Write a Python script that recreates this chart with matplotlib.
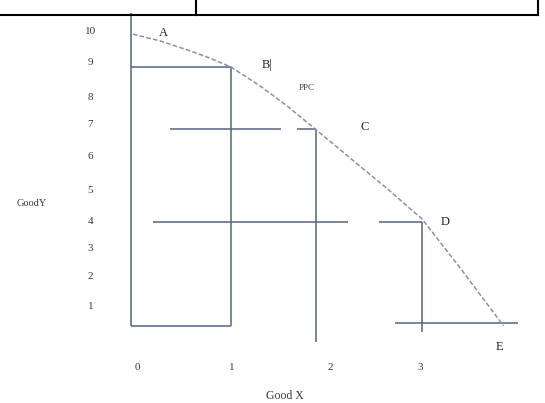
import matplotlib.pyplot as plt
from matplotlib.lines import Line2D

# PPC curve (Good X, Good Y)
ppc_x = [0.02, 0.30, 0.58, 0.81, 1.03, 1.33, 1.61, 1.91, 2.26, 2.62, 3.0, 3.41, 3.84]
ppc_y = [10.06, 9.84, 9.55, 9.29, 9.0, 8.39, 7.74, 6.97, 6.06, 5.13, 4.1, 2.45, 0.65]

# guide lines of the sketch: (x0, x1, y0, y1)
guides = [
    (0.0, 0.0, 0.65, 10.75),   # y axis
    (0.0, 1.03, 9.0, 9.0),     # B horizontal
    (1.03, 1.03, 9.0, 0.65),   # B vertical
    (0.0, 1.03, 0.65, 0.65),   # base
    (0.40, 1.55, 7.0, 7.0),    # 7 line
    (1.71, 1.91, 7.0, 7.0),
    (1.91, 1.91, 7.0, 0.13),   # C vertical
    (0.23, 2.24, 4.0, 4.0),    # 4 line
    (2.56, 3.0, 4.0, 4.0),
    (3.0, 3.0, 4.0, 0.45),     # D vertical
    (2.72, 3.99, 0.74, 0.74),  # E base
]

y_ticks = [10, 9, 8, 7, 6, 5, 4, 3, 2, 1]
y_tick_pos = [10.13, 9.16, 8.03, 7.13, 6.10, 5.03, 4.0, 3.16, 2.23, 1.26]
x_ticks = ['0', '1', '2', '3']
x_tick_pos = [0.07, 1.04, 2.05, 2.98]

points = ['A', 'B|', 'C', 'D', 'E']
point_pos = [(0.33, 10.1), (1.40, 9.06), (2.41, 7.06), (3.24, 4.0), (3.8, -0.03)]

plt.rcParams['font.family'] = ['Liberation Serif', 'DejaVu Serif']

fig = plt.figure(figsize=(5.45, 4.03), dpi=100)
ax = fig.add_axes([0, 0, 1, 1])
ax.set_xlim(-1.351, 4.268)
ax.set_ylim(-1.839, 11.16)
ax.axis('off')

line_col = '#5a6888'
for x0, x1, y0, y1 in guides:
    ax.plot([x0, x1], [y0, y1], color=line_col, lw=1.15, solid_capstyle='butt')

ax.plot(ppc_x, ppc_y, color='#8a90a6', lw=1.1, ls=(0, (3, 1.5)))

txt_col = '#3a3a3a'
for v, yp in zip(y_ticks, y_tick_pos):
    ax.text(-0.42, yp, str(v), ha='center', va='center', fontsize=8, color=txt_col)
for lab, xp in zip(x_ticks, x_tick_pos):
    ax.text(xp, -0.68, lab, ha='center', va='center', fontsize=8, color=txt_col)

for lab, (xp, yp) in zip(points, point_pos):
    ax.text(xp, yp, lab, ha='center', va='center', fontsize=9, color='#222222')
ax.text(1.81, 8.32, 'PPC', ha='center', va='center', fontsize=6.5, color=txt_col)

ax.text(1.59, -1.6, 'Good X', ha='center', va='center', fontsize=8.5, color=txt_col)
ax.text(-1.02, 4.6, 'GoodY', ha='center', va='center', fontsize=7.5, color=txt_col)

# table border at the top of the scan
top = 1 - 15 / 403
fig.add_artist(Line2D([0, 538 / 545], [top, top], color='black', lw=1.5))
for xp in [196 / 545, 538 / 545]:
    fig.add_artist(Line2D([xp, xp], [top, 1], color='black', lw=1.5))

fig.savefig('out.png', dpi=100, facecolor='white')
